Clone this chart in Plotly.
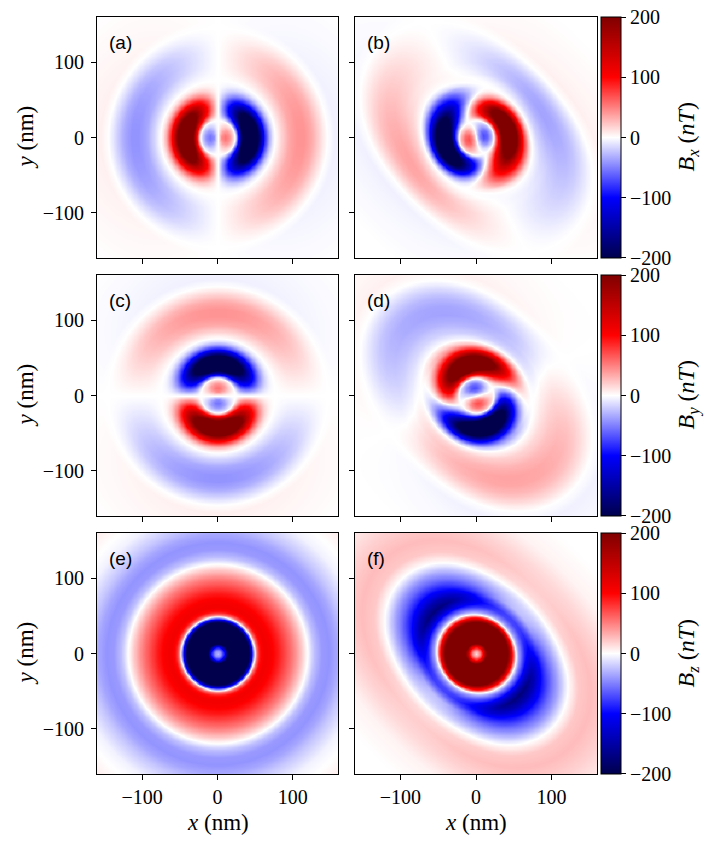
import numpy as np
import plotly.graph_objects as go

# radial profiles (nm -> nT)
# state 1 : panels (a), (c), (e)
r_in1 = [0, 5, 10, 15, 20, 23, 28, 33, 38, 43, 48, 53, 58, 63, 68, 72, 76, 85, 95, 105, 115, 125, 135, 145, 155, 165, 230]
b_in1 = [0, 45, 55, 45, 20, 0, -110, -210, -270, -290, -270, -210, -140, -80, -35, -12, 0, 18, 35, 42, 42, 33, 16, 0, -6, -5, 0]
r_z1 = [0, 4, 8, 12, 16, 20, 30, 38, 43, 46, 49, 52, 56, 62, 70, 80, 90, 100, 110, 119, 128, 138, 148, 158, 170, 190, 230]
b_z1 = [-30, -45, -90, -180, -250, -290, -290, -250, -170, -90, 0, 60, 95, 110, 105, 90, 70, 50, 25, 0, -25, -40, -42, -35, -22, -5, 8]

# state 2 : panels (b), (d), (f)
r_in2 = [0, 5, 10, 15, 20, 23, 28, 33, 38, 43, 48, 53, 58, 63, 68, 72, 80, 90, 100, 110, 120, 130, 142, 155, 170, 230]
b_in2 = [0, -50, -70, -60, -30, 0, 110, 210, 270, 290, 270, 210, 140, 75, 25, 0, -18, -30, -36, -35, -28, -16, 0, 6, 4, 0]
r_z2 = [0, 4, 8, 12, 16, 20, 30, 38, 44, 48, 52, 56, 60, 65, 70, 76, 84, 92, 100, 106, 112, 125, 140, 160, 190, 230]
b_z2 = [15, 40, 90, 170, 240, 290, 290, 250, 170, 90, 0, -40, -65, -95, -110, -100, -70, -48, -30, -15, 0, 20, 25, 18, 5, 0]
# twist of the in-plane field (deg), ellipse distortion, lobe strength
r_twist = [0, 15, 25, 45, 70, 85, 100, 230]
twist = [-10, -15, -28, -12, 12, -15, -22, -25]
r_ell = [0, 40, 60, 80, 100, 120, 230]
ell = [0, 0, 0.05, 0.12, 0.18, 0.2, 0.2]
r_lobe = [0, 50, 60, 78, 95, 120, 140, 230]
lobe = [0, 0, 0.2, 0.6, 0.35, 0.2, 0.1, 0]
major_axis = 135  # deg

ticks = [-100, 0, 100]
cb_ticks = [-199.99, -100, 0, 100, 199.99]
cb_text = ["\u2212200", "\u2212100", "0", "100", "200"]
panel_names = ["(a)", "(b)", "(c)", "(d)", "(e)", "(f)"]
cb_titles = ["<i>B</i><sub><i>x</i></sub> (<i>nT</i>)",
             "<i>B</i><sub><i>y</i></sub> (<i>nT</i>)",
             "<i>B</i><sub><i>z</i></sub> (<i>nT</i>)"]

#%% build the maps
xs = np.linspace(-160, 160, 201)
X, Y = np.meshgrid(xs, xs)
R = np.hypot(X, Y)
PHI = np.arctan2(Y, X)

f1 = np.interp(R, r_in1, b_in1)
bx1 = f1 * np.cos(PHI)
by1 = f1 * np.sin(PHI)
bz1 = np.interp(R, r_z1, b_z1)

phi0 = np.deg2rad(major_axis)
rho = R * (1 - np.interp(R, r_ell, ell) * np.cos(2 * (PHI - phi0)))
alpha = np.deg2rad(np.interp(R, r_twist, twist))
f2 = np.interp(rho, r_in2, b_in2)
bx2 = f2 * np.cos(PHI + alpha)
by2 = f2 * np.sin(PHI + alpha)
bz2 = np.interp(rho, r_z2, b_z2) * (1 + np.interp(R, r_lobe, lobe) * np.cos(2 * (PHI - phi0)))

maps = [bx1, bx2, by1, by2, bz1, bz2]

#%% figure  (page body has an 8 px margin, so work in page pixels minus 8)
OFF = 8
W, H = 714 - 2 * OFF, 843 - 2 * OFF
def px(v):
    return (v - OFF) / W
def py(v):
    return 1 - (v - OFF) / H

seismic = [[0, "rgb(0,0,77)"], [0.25, "rgb(0,0,255)"], [0.5, "rgb(255,255,255)"],
           [0.75, "rgb(255,0,0)"], [1, "rgb(128,0,0)"]]
serif = "Liberation Serif, Times New Roman, serif"

col_px = [(97, 338), (355, 597)]
row_px = [(17, 258), (275, 516), (533, 774)]

fig = go.Figure()
for i, z in enumerate(maps):
    row, col = divmod(i, 2)
    n = i + 1
    xa = "x" if n == 1 else "x%d" % n
    ya = "y" if n == 1 else "y%d" % n
    top, bot = row_px[row]
    left, right = col_px[col]
    cb = None
    if col == 1:
        cb = dict(x=px(601), xanchor="left", xpad=0,
                  y=py((top + bot) / 2), yanchor="middle", ypad=0,
                  len=(bot - top) / H, lenmode="fraction",
                  thickness=20, thicknessmode="pixels",
                  outlinewidth=1, outlinecolor="black",
                  tickvals=cb_ticks, ticktext=cb_text, ticklabeloverflow="allow",
                  ticks="outside", ticklen=5, tickcolor="black",
                  tickfont=dict(family=serif, size=20, color="black"))
    fig.add_trace(go.Heatmap(x=xs, y=xs, z=np.round(z, 1), colorscale=seismic,
                             zmin=-200, zmax=200, zsmooth="best",
                             showscale=(col == 1), colorbar=cb,
                             xaxis=xa, yaxis=ya, hoverinfo="skip"))
    ax = dict(domain=[px(left), px(right)], range=[-160, 160], anchor=ya,
              tickvals=ticks, ticks="outside", ticklen=5, tickcolor="black",
              showline=True, linecolor="black", linewidth=1, mirror=True,
              showgrid=False, zeroline=False, showticklabels=(row == 2),
              tickfont=dict(family=serif, size=20, color="black"))
    ay = dict(domain=[py(bot), py(top)], range=[-160, 160], anchor=xa,
              tickvals=ticks, ticks="outside", ticklen=5, tickcolor="black",
              showline=True, linecolor="black", linewidth=1, mirror=True,
              showgrid=False, zeroline=False, showticklabels=(col == 0),
              ticklabelstandoff=3,
              tickfont=dict(family=serif, size=20, color="black"))
    fig.layout["xaxis" if n == 1 else "xaxis%d" % n] = ax
    fig.layout["yaxis" if n == 1 else "yaxis%d" % n] = ay
    fig.add_annotation(text=panel_names[i], xref="paper", yref="paper",
                       x=px(left + 10), y=py(top + 25),
                       xanchor="left", yanchor="middle", showarrow=False,
                       font=dict(family="Liberation Sans, Arial, sans-serif", size=19, color="black"))

for row, (top, bot) in enumerate(row_px):
    yc = py((top + bot) / 2)
    fig.add_annotation(text="<i>y</i> (nm)", xref="paper", yref="paper",
                       x=px(25), y=yc, textangle=-90, showarrow=False,
                       xanchor="center", yanchor="middle",
                       font=dict(family=serif, size=23, color="black"))
    fig.add_annotation(text=cb_titles[row], xref="paper", yref="paper",
                       x=px(687), y=yc, textangle=-90, showarrow=False,
                       xanchor="center", yanchor="middle",
                       font=dict(family=serif, size=24, color="black"))
for left, right in col_px:
    fig.add_annotation(text="<i>x</i> (nm)", xref="paper", yref="paper",
                       x=px((left + right) / 2), y=py(822), showarrow=False,
                       xanchor="center", yanchor="middle",
                       font=dict(family=serif, size=23, color="black"))

fig.update_layout(width=W, height=H, margin=dict(l=0, r=0, t=0, b=0),
                  plot_bgcolor="white", paper_bgcolor="white", showlegend=False)

fig.write_html("out.html")
